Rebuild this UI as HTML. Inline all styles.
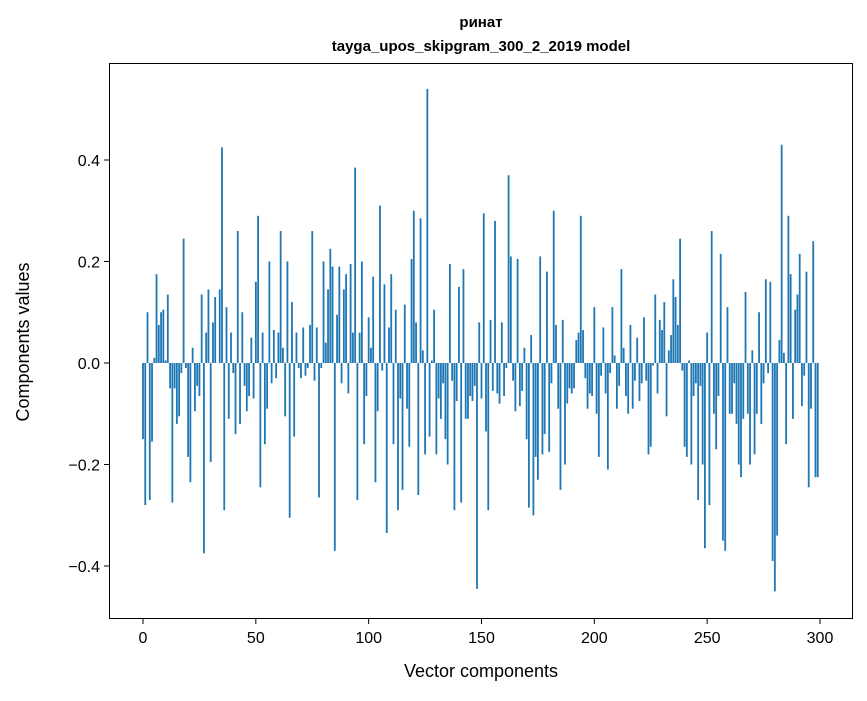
<!DOCTYPE html>
<html><head><meta charset="utf-8"><style>
body{margin:0;background:#fff;}
svg text{font-family:"Liberation Sans","DejaVu Sans",sans-serif;fill:#000;}
</style></head><body>
<svg id="chart" width="867" height="696">
<text x="481" y="27" text-anchor="middle" font-size="15" font-weight="bold">ринат</text>
<text x="481" y="51" text-anchor="middle" font-size="15" font-weight="bold">tayga_upos_skipgram_300_2_2019 model</text>
<g id="bars"></g>
<g id="axes"></g>
<rect x="109.5" y="63.5" width="743" height="555" fill="none" stroke="#000" stroke-width="1"/>
<text x="481" y="677" text-anchor="middle" font-size="18">Vector components</text>
<text transform="translate(29,342) rotate(-90)" text-anchor="middle" font-size="18">Components values</text>
</svg>
<script>
const values = [-0.15,-0.28,0.10,-0.27,-0.155,0.01,0.175,0.075,0.10,0.105,0.005,0.135,-0.05,-0.275,-0.05,-0.12,-0.105,-0.02,0.245,-0.01,
-0.185,-0.235,0.03,-0.095,-0.045,-0.065,0.135,-0.375,0.06,0.145,-0.195,0.08,0.13,0.0,0.145,0.425,-0.29,0.11,-0.11,0.06,
-0.02,-0.14,0.26,-0.12,0.10,-0.045,-0.095,-0.065,0.05,-0.07,0.16,0.29,-0.245,0.06,-0.16,-0.09,0.20,-0.04,0.065,-0.03,
0.06,0.26,0.03,-0.105,0.20,-0.305,0.12,-0.145,0.06,-0.01,-0.03,0.07,-0.025,-0.01,0.075,0.26,-0.035,0.07,-0.265,-0.01,
0.20,0.04,0.145,0.225,0.19,-0.37,0.095,0.19,-0.04,0.145,0.175,-0.06,0.195,0.06,0.385,-0.27,0.06,0.20,-0.16,-0.065,
0.09,0.03,0.17,-0.235,-0.095,0.31,-0.015,0.155,-0.335,0.07,0.175,-0.16,0.105,-0.29,-0.07,-0.25,0.115,-0.09,-0.165,0.205,
0.30,0.08,-0.26,0.285,0.025,-0.18,0.54,-0.145,0.005,0.105,-0.18,-0.07,-0.11,-0.04,-0.15,-0.20,0.195,-0.035,-0.29,-0.075,
0.15,-0.275,0.185,-0.11,-0.11,-0.065,-0.075,-0.045,-0.445,0.08,-0.07,0.295,-0.135,-0.29,0.085,-0.055,0.28,-0.06,-0.08,0.08,
-0.065,-0.01,0.37,0.21,-0.035,-0.095,0.205,-0.085,-0.055,0.03,-0.15,-0.285,0.055,-0.30,-0.185,-0.23,0.21,-0.18,-0.14,0.18,
-0.175,-0.04,0.30,0.075,-0.09,-0.25,0.085,-0.20,-0.08,-0.05,-0.06,-0.05,0.045,0.06,0.29,0.065,-0.03,-0.09,-0.06,-0.065,
0.11,-0.10,-0.185,-0.025,0.07,-0.06,-0.21,-0.02,0.11,0.015,-0.09,-0.045,0.185,0.03,-0.065,-0.10,0.075,-0.09,-0.035,0.05,
-0.075,-0.04,0.09,-0.035,-0.18,-0.165,-0.005,0.135,-0.06,0.085,0.065,0.12,-0.105,0.025,0.055,0.165,0.13,0.075,0.245,-0.015,
-0.165,-0.185,0.005,-0.20,-0.065,-0.04,-0.27,-0.045,-0.20,-0.365,0.06,-0.28,0.26,-0.10,-0.17,-0.065,0.215,-0.35,-0.37,0.11,
-0.10,-0.10,-0.04,-0.12,-0.20,-0.225,-0.11,0.14,-0.10,-0.20,0.025,-0.18,-0.10,0.10,-0.12,-0.04,0.165,-0.02,0.16,-0.39,
-0.45,-0.34,0.045,0.43,0.02,-0.16,0.29,0.175,-0.11,0.105,0.135,0.215,-0.085,-0.025,0.18,-0.245,-0.09,0.24,-0.225,-0.225];
const xTicks = [0,50,100,150,200,250,300];
const yTicks = [-0.4,-0.2,0.0,0.2,0.4];
const yTickLabels = ["\u22120.4","\u22120.2","0.0","0.2","0.4"];

const NS="http://www.w3.org/2000/svg";
const xs = v => 143 + v*(820-143)/300;
const ys = v => 363 - v*507.5;
const bars=document.getElementById('bars');
values.forEach((v,i)=>{
  const r=document.createElementNS(NS,'rect');
  const w=0.8*(820-143)/300;
  r.setAttribute('x',xs(i)-w/2);
  r.setAttribute('width',w);
  r.setAttribute('y',Math.min(ys(v),ys(0)));
  r.setAttribute('height',Math.abs(ys(v)-ys(0)));
  r.setAttribute('fill','#1f77b4');
  
  
  bars.appendChild(r);
});
const axes=document.getElementById('axes');
xTicks.forEach(t=>{
  const l=document.createElementNS(NS,'line');
  l.setAttribute('x1',xs(t));l.setAttribute('x2',xs(t));
  l.setAttribute('y1',619);l.setAttribute('y2',624);l.setAttribute('stroke','#000');
  
  
  axes.appendChild(l);
  const tx=document.createElementNS(NS,'text');
  tx.setAttribute('x',xs(t));tx.setAttribute('y',643);
  tx.setAttribute('text-anchor','middle');tx.setAttribute('font-size','16');
  tx.textContent=t;
  
  
  axes.appendChild(tx);
});
yTicks.forEach((t,k)=>{
  const l=document.createElementNS(NS,'line');
  l.setAttribute('x1',104);l.setAttribute('x2',109);
  l.setAttribute('y1',ys(t));l.setAttribute('y2',ys(t));l.setAttribute('stroke','#000');
  
  
  axes.appendChild(l);
  const tx=document.createElementNS(NS,'text');
  tx.setAttribute('x',100);tx.setAttribute('y',ys(t)+6);
  tx.setAttribute('text-anchor','end');tx.setAttribute('font-size','16');
  tx.textContent=yTickLabels[k];
  
  
  axes.appendChild(tx);
});
</script>
</body></html>
